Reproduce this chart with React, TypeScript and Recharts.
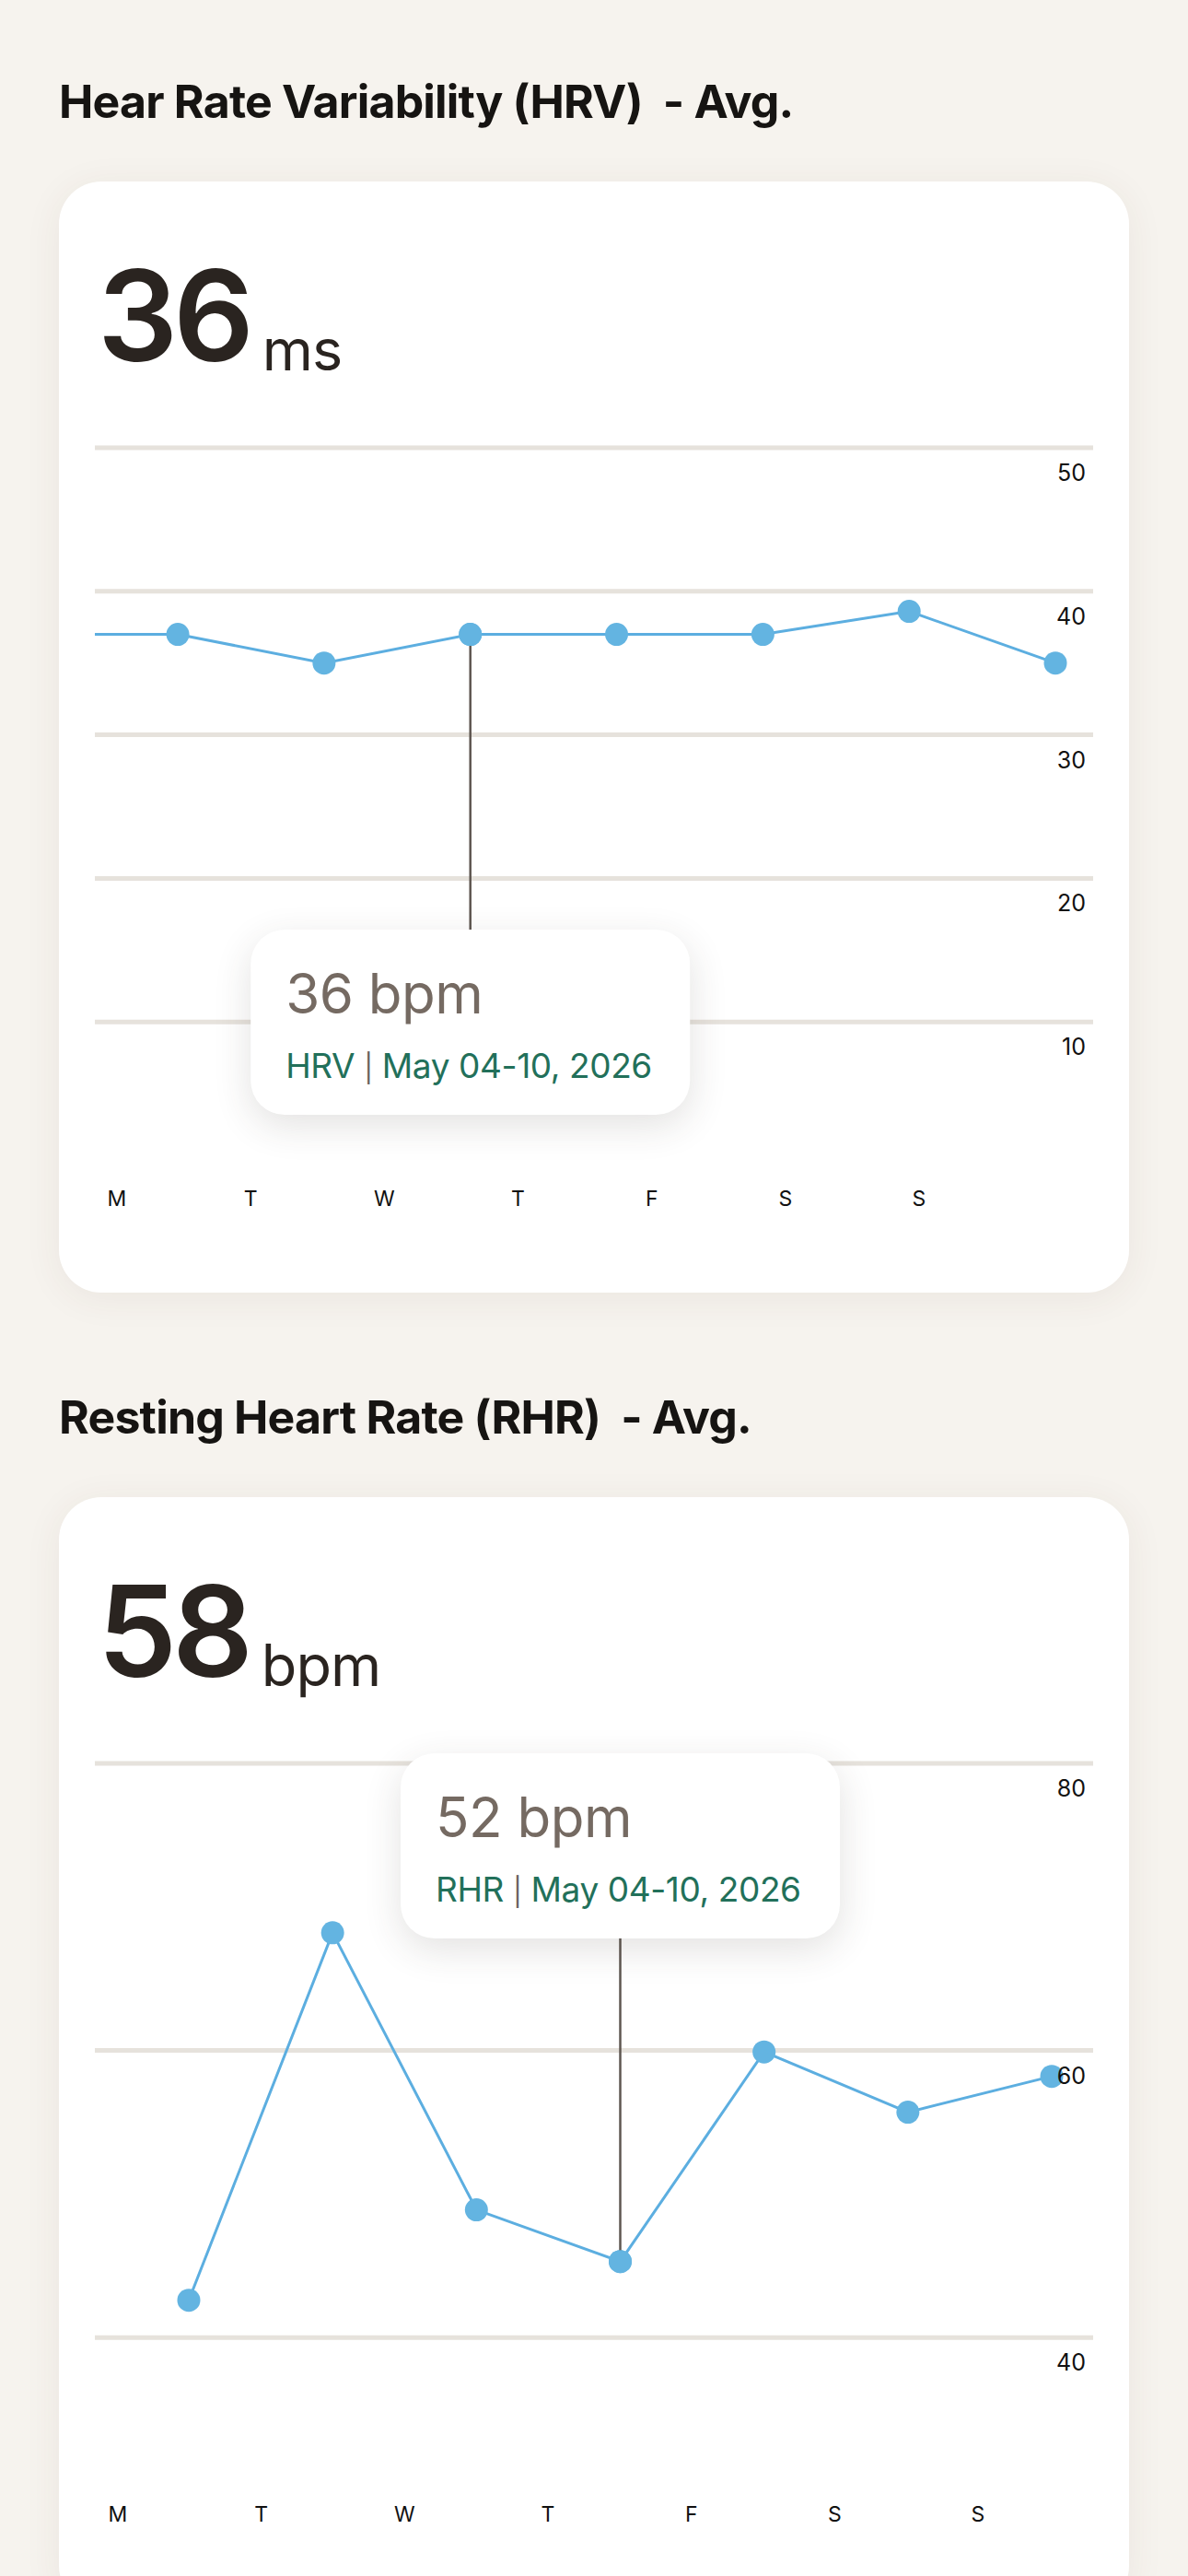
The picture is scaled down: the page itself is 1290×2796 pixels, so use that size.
import { LineChart, Line, XAxis, YAxis, CartesianGrid, Tooltip } from "recharts";

const days = ["M", "T", "W", "T", "F", "S", "S"];
const dayIndex = [0, 1, 2, 3, 4, 5, 6];

// HRV (ms) – the line enters from the previous Sunday
const hrvPrevSunday = 37;
const hrvValues = [37, 35, 37, 37, 37, 38.6, 35];
const hrvTicks = [10, 20, 30, 40, 50];
const hrvAverage = 36;
const hrvTooltipValue = 36;

// RHR (bpm)
const rhrValues = [42.6, 68.2, 48.9, 45.3, 59.9, 55.7, 58.2];
const rhrTicks = [40, 60, 80];
const rhrAverage = 58;
const rhrTooltipValue = 52;

const weekLabel = "May 04-10, 2026";

const hrvWeek = dayIndex.map((i) => ({ i, day: days[i], v: hrvValues[i] }));
const hrvData = [{ i: -1, day: "S", v: hrvPrevSunday }, ...hrvWeek];
const rhrWeek = dayIndex.map((i) => ({ i, day: days[i], v: rhrValues[i] }));

const colors = {
  page: "#f6f3ee",
  title: "#161412",
  big: "#2a2420",
  grid: "#e6e2dc",
  line: "#5caee0",
  dot: "#63b4e1",
  cursor: "#5e5650",
  tipValue: "#756a62",
  tipLabel: "#22705a",
  tipSep: "#6b625c",
  tick: "#111111",
};

const FONT = "Inter, 'Noto Sans', sans-serif";
const CARD_W = 1162;
const CARD_H = 1206;
const CHART_TOP = 250;
const PLOT_BOTTOM = 818;
const DAYS_AXIS_H = 100;

interface TipProps {
  active?: boolean;
  value: number;
  metric: string;
}

const TipBox = ({ active, value, metric }: TipProps) => {
  if (!active) return null;
  return (
    <div
      style={{
        position: "relative",
        transform: "translateX(-50%)",
        width: 477,
        height: 201,
        borderRadius: 37,
        background: "#fff",
        boxShadow: "0 12px 40px rgba(60, 50, 40, 0.14)",
        fontFamily: FONT,
      }}
    >
      <div
        style={{
          position: "absolute",
          left: 38,
          top: 39,
          fontSize: 60,
          lineHeight: 1,
          letterSpacing: -0.5,
          color: colors.tipValue,
          whiteSpace: "nowrap",
        }}
      >
        {value} bpm
      </div>
      <div
        style={{
          position: "absolute",
          left: 38,
          top: 129,
          fontSize: 37,
          lineHeight: 1,
          letterSpacing: -0.4,
          color: colors.tipLabel,
          whiteSpace: "nowrap",
        }}
      >
        {metric} <span style={{ color: colors.tipSep, fontSize: 30 }}>|</span> {weekLabel}
      </div>
    </div>
  );
};

const YTick = (props: any) => {
  const { x, y, payload } = props;
  return (
    <text x={x} y={y + 36} textAnchor="end" fontSize={25} fontFamily={FONT} fill={colors.tick}>
      {payload.value}
    </text>
  );
};

const DayTick = (props: any) => {
  const { x, y, payload } = props;
  return (
    <text x={x} y={y + 14} textAnchor="middle" fontSize={23} fontFamily={FONT} fill={colors.tick}>
      {payload.value}
    </text>
  );
};

interface CardProps {
  top: number;
  title: string;
  average: number;
  unit: string;
  data: { i: number; v: number }[];
  week: { i: number; day: string; v: number }[];
  yTicks: number[];
  yDomain: [number, number];
  lineDomain: [number, number];
  dayPadding: { left: number; right: number };
  activeIndex: number;
  tipValue: number;
  metric: string;
  tipY: number;
  cursorEnd: number;
}

function MetricCard(p: CardProps) {
  return (
    <>
      <div
        style={{
          position: "absolute",
          left: 64,
          top: p.top - 112,
          fontFamily: FONT,
          fontWeight: 700,
          fontSize: 50,
          lineHeight: 1,
          letterSpacing: -0.8,
          color: colors.title,
          whiteSpace: "pre",
        }}
      >
        {p.title}
      </div>
      <div
        style={{
          position: "absolute",
          left: 64,
          top: p.top,
          width: CARD_W,
          height: CARD_H,
          borderRadius: 46,
          background: "#fff",
          boxShadow: "0 6px 40px rgba(80, 60, 40, 0.07)",
        }}
      >
        <div
          style={{
            position: "absolute",
            left: 42,
            top: 77,
            fontFamily: FONT,
            color: colors.big,
            lineHeight: 1,
            whiteSpace: "nowrap",
          }}
        >
          <span style={{ fontSize: 137, fontWeight: 600, letterSpacing: -5 }}>{p.average}</span>
          <span
            style={{ fontSize: 63, marginLeft: 14, letterSpacing: -1, position: "relative", top: 10 }}
          >
            {p.unit}
          </span>
        </div>
        <div style={{ position: "absolute", left: 0, top: CHART_TOP }}>
          <LineChart
            width={CARD_W}
            height={PLOT_BOTTOM + DAYS_AXIS_H}
            data={p.data}
            margin={{ top: 39, right: 39, left: 39, bottom: 0 }}
          >
            <CartesianGrid
              vertical={false}
              horizontalValues={p.yTicks}
              stroke={colors.grid}
              strokeWidth={5}
            />
            <XAxis dataKey="i" type="number" domain={p.lineDomain} allowDataOverflow hide />
            <XAxis
              xAxisId="days"
              dataKey="day"
              type="category"
              padding={p.dayPadding}
              interval={0}
              height={DAYS_AXIS_H}
              axisLine={false}
              tickLine={false}
              tickSize={0}
              tickMargin={0}
              tick={<DayTick />}
            />
            <YAxis
              orientation="right"
              mirror
              domain={p.yDomain}
              ticks={p.yTicks}
              allowDataOverflow
              axisLine={false}
              tickLine={false}
              tickSize={0}
              tickMargin={8}
              tick={<YTick />}
            />
            <Tooltip
              defaultIndex={p.activeIndex}
              active
              cursor={false}
              offset={0}
              position={{ y: p.tipY }}
              allowEscapeViewBox={{ x: true, y: true }}
              isAnimationActive={false}
              wrapperStyle={{ outline: "none", zIndex: 5 }}
              content={<TipBox value={p.tipValue} metric={p.metric} />}
            />
            {/* invisible copy of the week that carries the weekday axis */}
            <Line
              xAxisId="days"
              data={p.week}
              dataKey="v"
              stroke="none"
              dot={false}
              activeDot={false}
              legendType="none"
              isAnimationActive={false}
            />
            <Line
              type="linear"
              dataKey="v"
              stroke={colors.line}
              strokeWidth={3}
              dot={{ r: 12.5, fill: colors.dot, stroke: "none" }}
              activeDot={(d: any) => (
                <g key="active">
                  <line
                    x1={d.cx}
                    x2={d.cx}
                    y1={d.cy}
                    y2={p.cursorEnd}
                    stroke={colors.cursor}
                    strokeWidth={2.5}
                  />
                  <circle cx={d.cx} cy={d.cy} r={12.5} fill={colors.dot} />
                </g>
              )}
              isAnimationActive={false}
            />
          </LineChart>
        </div>
      </div>
    </>
  );
}

export default function App() {
  return (
    <div
      style={{
        position: "relative",
        width: 1290,
        height: 2796,
        overflow: "hidden",
        background: colors.page,
      }}
    >
      <style>{`body{margin:0;background:${colors.page};}`}</style>
      <MetricCard
        top={197}
        title={"Hear Rate Variability (HRV)  - Avg."}
        average={hrvAverage}
        unit="ms"
        data={hrvData}
        week={hrvWeek}
        yTicks={hrvTicks}
        yDomain={[0, 50]}
        lineDomain={[-0.567, 6.258]}
        dayPadding={{ left: 24, right: 189 }}
        activeIndex={3}
        tipValue={hrvTooltipValue}
        metric="HRV"
        tipY={562}
        cursorEnd={565}
      />
      <MetricCard
        top={1625}
        title={"Resting Heart Rate (RHR)  - Avg."}
        average={rhrAverage}
        unit="bpm"
        data={rhrWeek}
        week={rhrWeek}
        yTicks={rhrTicks}
        yDomain={[30, 80]}
        lineDomain={[-0.653, 6.288]}
        dayPadding={{ left: 25, right: 125 }}
        activeIndex={3}
        tipValue={rhrTooltipValue}
        metric="RHR"
        tipY={28}
        cursorEnd={225}
      />
    </div>
  );
}
